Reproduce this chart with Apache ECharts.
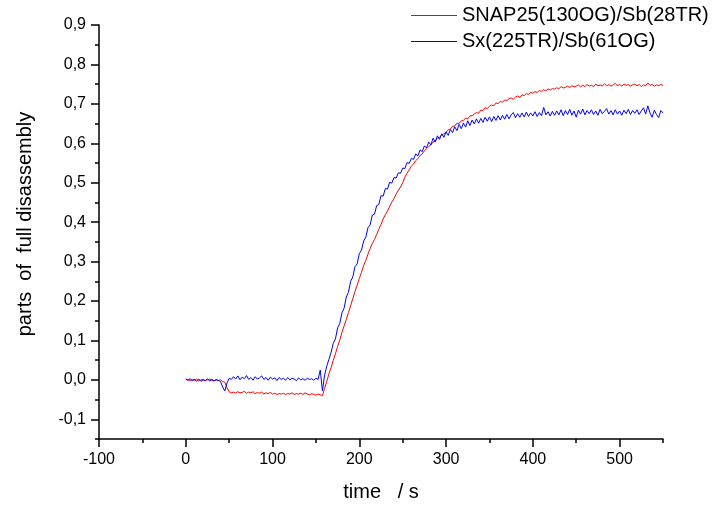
<!DOCTYPE html>
<html>
<head>
<meta charset="utf-8">
<script src="https://cdn.jsdelivr.net/npm/echarts@6/dist/echarts.min.js"></script>
<style>
html,body{margin:0;padding:0;background:#fff;}
#chart{width:716px;height:507px;}
</style>
</head>
<body>
<div id="chart"></div>
<script>
// sampling: time (s) of first sample and step between samples
const T_START = 0;
const T_STEP = 2.5;

const seriesNames = ['SNAP25(130OG)/Sb(28TR)', 'Sx(225TR)/Sb(61OG)'];

const redValues = [
0.002,0.000,-0.002,0.001,-0.001,0.002,-0.003,0.000,0.001,-0.002,
0.000,0.002,-0.001,-0.003,0.001,-0.002,0.000,-0.004,-0.006,-0.020,
-0.030,-0.033,-0.031,-0.034,-0.030,-0.033,-0.032,-0.029,-0.034,-0.031,
-0.033,-0.030,-0.035,-0.032,-0.034,-0.031,-0.036,-0.033,-0.035,-0.032,
-0.036,-0.034,-0.037,-0.035,-0.036,-0.034,-0.037,-0.035,-0.036,-0.033,
-0.037,-0.035,-0.036,-0.034,-0.037,-0.033,-0.036,-0.038,-0.035,-0.037,
-0.039,-0.036,-0.038,-0.040,-0.022,-0.004,0.015,0.031,0.050,0.066,
0.085,0.101,0.120,0.137,0.153,0.171,0.188,0.206,0.224,0.240,
0.257,0.272,0.290,0.303,0.319,0.333,0.346,0.356,0.369,0.382,
0.394,0.408,0.419,0.428,0.440,0.451,0.460,0.471,0.481,0.489,
0.500,0.514,0.524,0.533,0.542,0.547,0.556,0.561,0.569,0.573,
0.581,0.586,0.592,0.596,0.603,0.606,0.613,0.615,0.621,0.624,
0.628,0.634,0.636,0.643,0.644,0.651,0.650,0.657,0.658,0.664,
0.662,0.669,0.670,0.674,0.678,0.676,0.684,0.683,0.690,0.688,
0.694,0.697,0.695,0.702,0.701,0.706,0.704,0.710,0.708,0.713,
0.715,0.712,0.717,0.720,0.716,0.723,0.721,0.726,0.724,0.729,
0.727,0.731,0.729,0.734,0.731,0.736,0.733,0.738,0.735,0.739,
0.737,0.741,0.738,0.744,0.740,0.742,0.745,0.741,0.746,0.743,
0.745,0.748,0.743,0.747,0.744,0.749,0.745,0.747,0.744,0.750,
0.746,0.748,0.745,0.751,0.746,0.749,0.745,0.748,0.752,0.746,
0.749,0.745,0.750,0.747,0.749,0.745,0.748,0.750,0.746,0.749,
0.744,0.748,0.746,0.753,0.747,0.749,0.745,0.748,0.746,0.749,
0.747
];

const blueValues = [
0.002,-0.001,0.003,-0.002,0.001,-0.003,0.002,-0.004,0.000,-0.002,
0.003,-0.003,0.001,-0.002,0.000,-0.001,-0.004,-0.018,-0.028,-0.008,
0.004,0.001,0.008,0.002,0.010,0.000,0.007,0.003,0.011,0.001,
0.006,-0.001,0.008,0.002,0.005,0.010,0.001,0.006,-0.001,0.007,
0.002,0.005,-0.002,0.006,0.001,0.004,-0.001,0.006,0.000,0.004,
0.002,-0.002,0.005,0.000,0.003,-0.001,0.004,0.001,0.003,-0.001,
0.004,0.001,0.025,-0.028,0.012,0.035,0.052,0.070,0.093,0.104,
0.132,0.143,0.170,0.182,0.210,0.222,0.250,0.261,0.287,0.294,
0.320,0.329,0.352,0.362,0.386,0.393,0.418,0.420,0.442,0.445,
0.467,0.466,0.485,0.484,0.501,0.499,0.513,0.512,0.525,0.524,
0.537,0.536,0.551,0.549,0.562,0.559,0.573,0.568,0.583,0.579,
0.593,0.589,0.603,0.596,0.613,0.603,0.619,0.610,0.624,0.615,
0.629,0.620,0.635,0.627,0.642,0.632,0.648,0.637,0.651,0.641,
0.657,0.645,0.659,0.649,0.662,0.651,0.663,0.653,0.666,0.656,
0.667,0.655,0.668,0.658,0.670,0.659,0.671,0.661,0.673,0.662,
0.672,0.678,0.665,0.675,0.666,0.677,0.667,0.679,0.668,0.677,
0.669,0.680,0.668,0.678,0.670,0.691,0.672,0.680,0.669,0.681,
0.671,0.682,0.672,0.685,0.670,0.683,0.673,0.686,0.671,0.682,
0.666,0.684,0.674,0.687,0.672,0.683,0.675,0.685,0.673,0.682,
0.671,0.686,0.675,0.681,0.688,0.674,0.683,0.672,0.685,0.674,
0.682,0.671,0.684,0.675,0.686,0.673,0.683,0.676,0.685,0.673,
0.682,0.690,0.674,0.695,0.677,0.666,0.684,0.673,0.665,0.683,
0.677
];

const xMajorTicks = [-100, 0, 100, 200, 300, 400, 500];
const xMinorTicks = [-50, 50, 150, 250, 350, 450, 550];
const yMajorTicks = [-0.1, 0, 0.1, 0.2, 0.3, 0.4, 0.5, 0.6, 0.7, 0.8, 0.9];
const yMinorTicks = [-0.15, -0.05, 0.05, 0.15, 0.25, 0.35, 0.45, 0.55, 0.65, 0.75, 0.85];

const X_MIN = -100, X_MAX = 550;
const Y_MIN = -0.15, Y_MAX = 0.9;

const FONT = 'Liberation Sans, Arial, sans-serif';

function toPairs(vals) {
  return vals.map((v, i) => [T_START + i * T_STEP, v]);
}

const chart = echarts.init(document.getElementById('chart'), null, {renderer: 'canvas'});

const axisLineStyle = {color: '#000', width: 1.5};

chart.setOption({
  animation: false,
  backgroundColor: '#fff',
  textStyle: {fontFamily: FONT},
  legend: {
    orient: 'vertical',
    left: 411,
    top: 5,
    padding: 0,
    itemWidth: 46,
    itemHeight: 1,
    itemGap: 5,
    icon: 'rect',
    itemStyle: {borderWidth: 0},
    textStyle: {fontFamily: FONT, fontSize: 20, color: '#000', lineHeight: 21},
    data: [
      {name: seriesNames[0], itemStyle: {color: '#ff0000', borderWidth: 0}},
      {name: seriesNames[1], itemStyle: {color: '#0000ff', borderWidth: 0}}
    ]
  },
  grid: {left: 99, right: 53, top: 25, bottom: 68, containLabel: false},
  xAxis: [{
    type: 'value',
    min: X_MIN, max: X_MAX,
    name: 'time   / s',
    nameLocation: 'middle',
    nameGap: 43,
    nameTextStyle: {fontFamily: FONT, fontSize: 20, color: '#000'},
    axisLine: {show: true, onZero: false, lineStyle: axisLineStyle},
    axisTick: {show: true, customValues: xMajorTicks, length: 8, lineStyle: axisLineStyle},
    axisLabel: {customValues: xMajorTicks, margin: 13, fontFamily: FONT, fontSize: 16, color: '#000',
      formatter: v => String(Math.round(v))},
    splitLine: {show: false}
  }, {
    type: 'value',
    position: 'bottom',
    min: X_MIN, max: X_MAX,
    axisLine: {show: false, onZero: false},
    axisTick: {show: true, customValues: xMinorTicks, length: 4, lineStyle: axisLineStyle},
    axisLabel: {show: false},
    splitLine: {show: false}
  }],
  yAxis: [{
    type: 'value',
    min: Y_MIN, max: Y_MAX,
    name: 'parts  of  full disassembly',
    nameLocation: 'middle',
    nameGap: 64,
    nameTextStyle: {fontFamily: FONT, fontSize: 20, color: '#000', padding: [0, 0, 0, 16]},
    axisLine: {show: true, onZero: false, lineStyle: axisLineStyle},
    axisTick: {show: true, customValues: yMajorTicks, length: 8, lineStyle: axisLineStyle},
    axisLabel: {customValues: yMajorTicks, margin: 13, fontFamily: FONT, fontSize: 16, color: '#000',
      formatter: v => v.toFixed(1).replace('.', ',')},
    splitLine: {show: false}
  }, {
    type: 'value',
    position: 'left',
    min: Y_MIN, max: Y_MAX,
    axisLine: {show: false, onZero: false},
    axisTick: {show: true, customValues: yMinorTicks, length: 4, lineStyle: axisLineStyle},
    axisLabel: {show: false},
    splitLine: {show: false}
  }],
  series: [{
    name: seriesNames[0],
    type: 'line',
    data: toPairs(redValues),
    showSymbol: false,
    symbol: 'none',
    color: '#ff0000',
    lineStyle: {color: '#ff0000', width: 1},
    z: 2
  }, {
    name: seriesNames[1],
    type: 'line',
    data: toPairs(blueValues),
    showSymbol: false,
    symbol: 'none',
    color: '#0000ff',
    lineStyle: {color: '#0000ff', width: 1},
    z: 3
  }]
});
</script>
</body>
</html>
